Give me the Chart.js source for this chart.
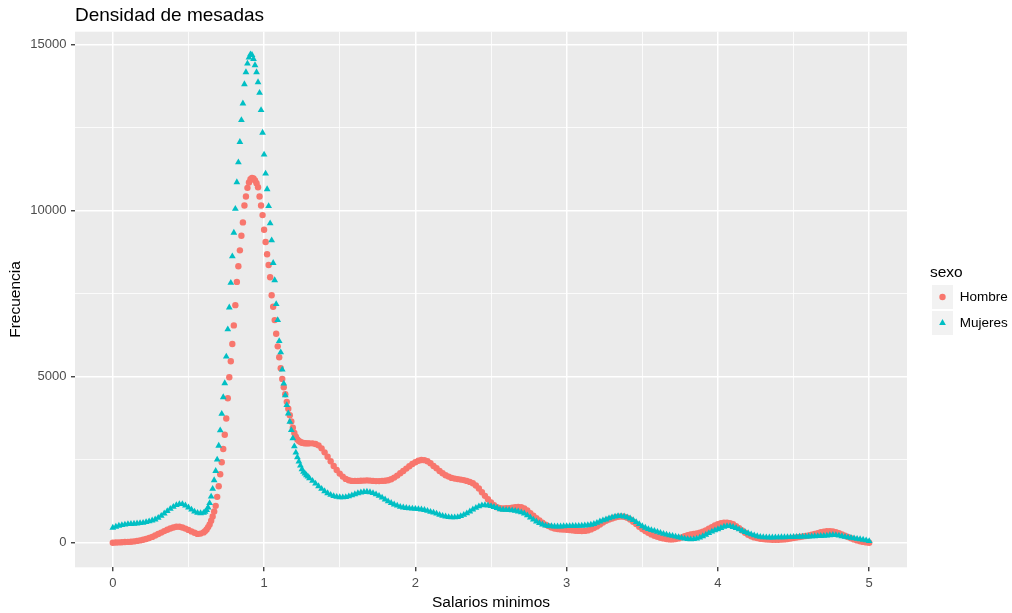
<!DOCTYPE html>
<html>
<head>
<meta charset="utf-8">
<script src="https://cdn.jsdelivr.net/npm/chart.js@4.4.1/dist/chart.umd.min.js"></script>
<style>
  html, body { margin: 0; padding: 0; background: #ffffff; }
  #wrap { width: 1012px; height: 613px; position: relative; }
</style>
</head>
<body>
<div id="wrap"><canvas id="c"></canvas></div>
<script>
// ---------- texts ----------
const chartTitle = 'Densidad de mesadas';
const xTitle = 'Salarios minimos';
const yTitle = 'Frecuencia';
const legendTitle = 'sexo';
const seriesNames = ['Hombre', 'Mujeres'];
const seriesColors = ['#F8766D', '#00BFC4'];

// ---------- ticks ----------
const xTicks = [0, 1, 2, 3, 4, 5];
const xMinorTicks = [0.5, 1.5, 2.5, 3.5, 4.5];
const yTicks = [0, 5000, 10000, 15000];
const yMinorTicks = [2500, 7500, 12500];

// ---------- sample grid of "Salarios minimos" (start, end, step) ----------
const gridSegments = [[0, 0.58, 0.02], [0.60, 1.30, 0.01], [1.32, 5.00, 0.02]];

// ---------- Hombre ----------
const hombreLow = [ // 0.00 .. 0.58
  0, 5, 10, 15, 20, 25, 30, 40, 55, 70,
  90, 110, 140, 175, 215, 260, 305, 350, 390, 430,
  460, 480, 480, 460, 425, 385, 340, 300, 265, 275
];
const hombrePeak = [ // 0.60 .. 1.30
  310, 350, 400, 470, 550, 660, 790, 940, 1110, 1380,
  1700, 2060, 2420, 2820, 3250, 3740, 4350, 4980, 5460, 5980,
  6540, 7150, 7850, 8320, 8800, 9240, 9640, 10150, 10420, 10680,
  10840, 10940, 10980, 10960, 10900, 10820, 10700, 10420, 10150, 9860,
  9420, 9050, 8680, 8360, 7990, 7450, 7100, 6700, 6290, 5910,
  5580, 5250, 4930, 4680, 4470, 4240, 4030, 3840, 3650, 3460,
  3300, 3190, 3110, 3060, 3030, 3010, 3000, 2995, 2990, 2990,
  2990
];
const hombreTail = [ // 1.32 .. 5.00
  2990, 2970, 2930, 2840, 2720, 2590, 2450, 2310, 2190, 2080,
  1990, 1920, 1880, 1860, 1860, 1860, 1865, 1870, 1875, 1870,
  1860, 1855, 1855, 1860, 1865, 1880, 1910, 1960, 2020, 2090,
  2160, 2230, 2300, 2370, 2420, 2465, 2490, 2485, 2450, 2390,
  2310, 2240, 2160, 2090, 2030, 1990, 1950, 1930, 1915, 1900,
  1885, 1860, 1830, 1790, 1720, 1630, 1520, 1410, 1310, 1210,
  1130, 1070, 1040, 1030, 1035, 1040, 1055, 1070, 1080, 1070,
  1030, 970, 890, 810, 740, 670, 600, 545, 500, 460,
  430, 410, 400, 395, 390, 380, 370, 360, 355, 350,
  355, 370, 400, 440, 490, 550, 610, 660, 700, 730,
  760, 780, 790, 780, 750, 700, 630, 560, 480, 410,
  350, 300, 250, 210, 180, 150, 130, 110, 100, 100,
  110, 130, 160, 195, 225, 250, 265, 280, 300, 330,
  370, 420, 470, 520, 560, 590, 605, 605, 590, 555,
  500, 440, 370, 300, 240, 195, 160, 140, 120, 110,
  100, 95, 90, 90, 90, 95, 100, 110, 125, 140,
  155, 170, 185, 200, 215, 240, 265, 290, 315, 335,
  345, 350, 340, 320, 290, 250, 210, 170, 135, 100,
  70, 45, 25, 10, 0
];

// ---------- Mujeres ----------
const mujeresLow = [ // 0.00 .. 0.58
  450, 480, 510, 530, 545, 560, 565, 570, 580, 590,
  600, 620, 645, 670, 700, 750, 810, 880, 950, 1020,
  1080, 1130, 1160, 1160, 1120, 1060, 995, 935, 900, 888
];
const mujeresPeak = [ // 0.60 .. 1.30
  900, 930, 985, 1060, 1190, 1390, 1620, 1880, 2160, 2500,
  2920, 3380, 3880, 4380, 4800, 5600, 6420, 7080, 7820, 8620,
  9330, 10050, 10850, 11450, 12060, 12720, 13220, 13800, 14160, 14420,
  14600, 14700, 14680, 14560, 14370, 14160, 13860, 13540, 13020, 12340,
  11680, 11110, 10640, 10130, 9610, 9100, 8420, 7900, 7180, 6700,
  6070, 5730, 5210, 4790, 4440, 4140, 3890, 3640, 3390, 3140,
  2900, 2710, 2570, 2440, 2320, 2210, 2135, 2080, 2030, 1990,
  1940
];
const mujeresTail = [ // 1.32 .. 5.00
  1860, 1780, 1700, 1620, 1550, 1490, 1440, 1405, 1380, 1368,
  1365, 1372, 1395, 1425, 1460, 1490, 1512, 1528, 1535, 1520,
  1495, 1455, 1410, 1360, 1300, 1245, 1195, 1150, 1115, 1080,
  1060, 1045, 1035, 1025, 1018, 1010, 1000, 985, 960, 930,
  905, 875, 840, 810, 790, 772, 764, 762, 770, 800,
  840, 885, 940, 1000, 1050, 1095, 1125, 1134, 1120, 1100,
  1075, 1045, 1005, 992, 988, 984, 975, 960, 940, 915,
  880, 825, 760, 695, 640, 590, 550, 515, 500, 495,
  490, 488, 490, 495, 500, 502, 503, 505, 508, 512,
  518, 525, 540, 565, 600, 640, 675, 700, 735, 765,
  785, 800, 803, 790, 765, 730, 680, 620, 560, 495,
  450, 410, 380, 355, 325, 295, 268, 245, 222, 205,
  185, 165, 145, 125, 110, 102, 108, 125, 155, 195,
  240, 290, 335, 370, 405, 445, 480, 502, 498, 475,
  445, 400, 360, 320, 285, 250, 220, 195, 178, 165,
  160, 158, 158, 160, 162, 164, 166, 168, 170, 172,
  175, 180, 183, 186, 189, 192, 195, 198, 202, 208,
  215, 225, 232, 228, 212, 195, 178, 160, 145, 130,
  118, 105, 90, 70, 50
];

// ---------- build ----------
const salarios = [];
gridSegments.forEach(([a, b, s]) => {
  const n = Math.round((b - a) / s) + 1;
  for (let i = 0; i < n; i++) salarios.push(+(a + i * s).toFixed(2));
});
const hombre = hombreLow.concat(hombrePeak, hombreTail);
const mujeres = mujeresLow.concat(mujeresPeak, mujeresTail);
if (hombre.length !== salarios.length || mujeres.length !== salarios.length) {
  console.error('length mismatch', salarios.length, hombre.length, mujeres.length);
}
const toPoints = vals => salarios.map((x, i) => ({ x: x, y: vals[i] }));

const FONT = '"Liberation Sans", Arial, Helvetica, sans-serif';
const AREA_RIGHT = 907;
const LEGEND_LEFT = 930;
const KEY_W = 21, KEY_H = 24;

const isMajorX = v => xTicks.includes(v);
const isMajorY = v => yTicks.includes(v);

const panelPlugin = {
  id: 'panelBg',
  beforeDraw(chart) {
    const { ctx, chartArea: a } = chart;
    ctx.save();
    ctx.fillStyle = '#EBEBEB';
    ctx.fillRect(a.left, a.top, a.right - a.left, a.bottom - a.top);
    ctx.restore();
  },
  afterLayout(chart) {
    const lg = chart.legend;
    if (!lg) return;
    const w = lg.right - lg.left;
    lg.left = LEGEND_LEFT;
    lg.right = LEGEND_LEFT + w;
  },
  afterDraw(chart) {
    const lg = chart.legend;
    if (!lg || !lg.legendHitBoxes) return;
    const ctx = chart.ctx;
    lg.legendHitBoxes.forEach((hb, i) => {
      const item = lg.legendItems[i];
      const ds = chart.data.datasets[item.datasetIndex];
      ctx.save();
      ctx.fillStyle = ds.pointBackgroundColor;
      Chart.helpers.drawPoint(ctx, {
        pointStyle: ds.pointStyle, radius: ds.pointRadius, rotation: 0, borderWidth: 0
      }, hb.left + KEY_W / 2, hb.top + KEY_H / 2);
      ctx.restore();
    });
  }
};

const chart = new Chart(document.getElementById('c'), {
  type: 'scatter',
  data: {
    datasets: [
      {
        label: seriesNames[0], data: toPoints(hombre),
        pointStyle: 'circle', pointRadius: 3.2, pointHoverRadius: 3.2,
        pointBackgroundColor: seriesColors[0], backgroundColor: seriesColors[0],
        pointBorderWidth: 0, borderWidth: 0, showLine: false, order: 1
      },
      {
        label: seriesNames[1], data: toPoints(mujeres),
        pointStyle: 'triangle', pointRadius: 3.9, pointHoverRadius: 3.9,
        pointBackgroundColor: seriesColors[1], backgroundColor: seriesColors[1],
        pointBorderWidth: 0, borderWidth: 0, showLine: false, order: 0
      }
    ]
  },
  options: {
    responsive: true,
    maintainAspectRatio: false,
    animation: false,
    events: [],
    layout: { padding: { left: 0, right: 17, top: 0, bottom: 0 } },
    plugins: {
      tooltip: { enabled: false },
      title: {
        display: true, text: chartTitle, align: 'start', fullSize: false,
        color: '#000000',
        font: { family: FONT, size: 19, weight: 'normal', lineHeight: 1.2 },
        padding: { top: 4.6, bottom: 4.3 }
      },
      legend: {
        display: true, position: 'right', align: 'center', fullSize: false,
        title: {
          display: true, text: legendTitle, position: 'start', color: '#000000',
          font: { family: FONT, size: 15.5, lineHeight: 1.1 },
          padding: { top: 3.25, bottom: 0.7 }
        },
        labels: {
          boxWidth: KEY_W, boxHeight: KEY_H, padding: 2, color: '#000000',
          font: { family: FONT, size: 13.5 },
          generateLabels(ch) {
            return ch.data.datasets.map((ds, i) => ({
              text: ds.label, fillStyle: '#F2F2F2', strokeStyle: 'rgba(0,0,0,0)',
              lineWidth: 0, hidden: false, datasetIndex: i, fontColor: '#000000'
            }));
          }
        }
      }
    },
    scales: {
      x: {
        type: 'linear', min: -0.25, max: 5.25,
        afterBuildTicks: s => {
          s.ticks = xTicks.concat(xMinorTicks).sort((a, b) => a - b).map(v => ({ value: v }));
        },
        afterFit: s => { s.height = 45.7; },
        border: { display: false },
        grid: {
          color: '#FFFFFF',
          lineWidth: c => (c.tick && isMajorX(c.tick.value)) ? 1.5 : 0.8,
          tickColor: c => (c.tick && isMajorX(c.tick.value)) ? '#333333' : 'rgba(0,0,0,0)',
          tickLength: 4, tickWidth: 1.3
        },
        ticks: {
          autoSkip: false, maxRotation: 0, minRotation: 0, padding: 4,
          color: '#4D4D4D', font: { family: FONT, size: 13 },
          callback: v => isMajorX(v) ? String(v) : ''
        },
        title: {
          display: true, text: xTitle, color: '#000000',
          font: { family: FONT, size: 15.5 }, padding: { top: 0, bottom: 1.2 }
        }
      },
      y: {
        type: 'linear', min: -740, max: 15380,
        afterBuildTicks: s => {
          s.ticks = yTicks.concat(yMinorTicks).sort((a, b) => a - b).map(v => ({ value: v }));
        },
        afterFit: s => { s.width = 75; },
        border: { display: false },
        grid: {
          color: '#FFFFFF',
          lineWidth: c => (c.tick && isMajorY(c.tick.value)) ? 1.5 : 0.8,
          tickColor: c => (c.tick && isMajorY(c.tick.value)) ? '#333333' : 'rgba(0,0,0,0)',
          tickLength: 4, tickWidth: 1.3
        },
        ticks: {
          autoSkip: false, padding: 4.5,
          color: '#4D4D4D', font: { family: FONT, size: 13 },
          callback: v => isMajorY(v) ? String(v) : ''
        },
        title: {
          display: true, text: yTitle, color: '#000000',
          font: { family: FONT, size: 15.5 }, padding: { top: 6, bottom: 0 }
        }
      }
    }
  },
  plugins: [panelPlugin]
});

const diff = chart.chartArea.right - AREA_RIGHT;
if (Math.abs(diff) > 0.01) {
  chart.options.layout.padding.right += diff;
  chart.update();
}
</script>
</body>
</html>
